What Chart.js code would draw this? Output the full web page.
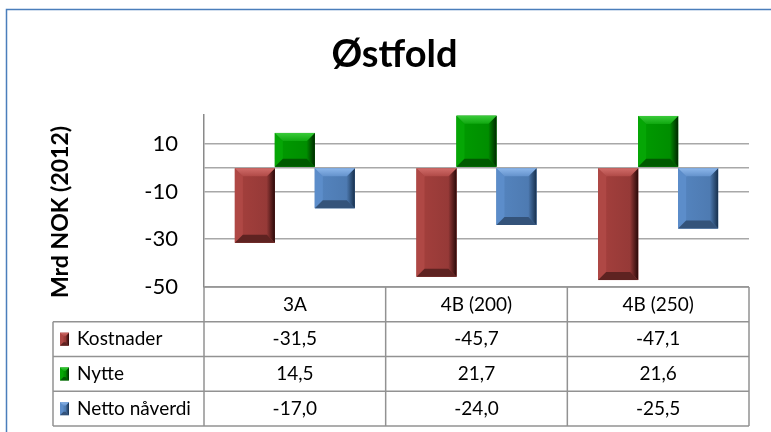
<!DOCTYPE html>
<html>
<head>
<meta charset="utf-8">
<script src="https://cdn.jsdelivr.net/npm/chart.js@4.4.0/dist/chart.umd.min.js"></script>
<style>
  html, body { margin: 0; padding: 0; background: #fff; }
  #wrap { width: 771px; height: 432px; }
</style>
</head>
<body>
<div id="wrap"><canvas id="chart" width="771" height="432"></canvas></div>
<script>
// --------------------------------------
// 1. Data
// --------------------------------------
const categories = ["3A", "4B (200)", "4B (250)"];
const kostnader = [-31.5, -45.7, -47.1];
const nytte = [14.5, 21.7, 21.6];
const nettoNaverdi = [-17.0, -24.0, -25.5];
const seriesNames = ["Kostnader", "Nytte", "Netto nåverdi"];
const yTickValues = [-50, -30, -10, 0, 10];
const yTickLabels = ["-50", "-30", "-10", "", "10"];

// bevel palettes (face, light top, dark bottom, left, dark right)
const palettes = [
    { face: "#A5403D", faceR: "#923836", top: "#D06C69", topIn: "#B04A47", bottom: "#5E2321", left: "#AF4845", right: "#2A0908" },
    { face: "#009C00", faceR: "#008A00", top: "#3ACB3A", topIn: "#10A810", bottom: "#005A00", left: "#05A605", right: "#002800" },
    { face: "#5585C0", faceR: "#4C78AE", top: "#8CB6EA", topIn: "#6492CC", bottom: "#34537A", left: "#5C8DCA", right: "#17304D" }
];

const FONT = "Lato, 'Open Sans', sans-serif";
const fmt = v => v.toFixed(1).replace(".", ",");

// --------------------------------------
// 2. Drawing helpers
// --------------------------------------
function poly(ctx, pts, fill) {
    ctx.beginPath();
    ctx.moveTo(pts[0][0], pts[0][1]);
    for (let i = 1; i < pts.length; i++) ctx.lineTo(pts[i][0], pts[i][1]);
    ctx.closePath();
    ctx.fillStyle = fill;
    ctx.fill();
}

function bevelBox(ctx, L, T, R, B, pal, bevel) {
    const b = Math.min(bevel, (R - L) / 2, (B - T) / 2);
    let g = ctx.createLinearGradient(L, 0, R, 0);
    g.addColorStop(0, pal.face);
    g.addColorStop(1, pal.faceR);
    ctx.fillStyle = g;
    ctx.fillRect(L, T, R - L, B - T);
    poly(ctx, [[L, T], [L + b, T + b], [L + b, B - b], [L, B]], pal.left);
    g = ctx.createLinearGradient(R - b, 0, R, 0);
    g.addColorStop(0, pal.faceR);
    g.addColorStop(1, pal.right);
    poly(ctx, [[R, T], [R - b, T + b], [R - b, B - b], [R, B]], g);
    g = ctx.createLinearGradient(0, T, 0, T + b);
    g.addColorStop(0, pal.top);
    g.addColorStop(1, pal.topIn);
    poly(ctx, [[L, T], [R, T], [R - b, T + b], [L + b, T + b]], g);
    poly(ctx, [[L, B], [R, B], [R - b, B - b], [L + b, B - b]], pal.bottom);
}

// --------------------------------------
// 3. Plugins
// --------------------------------------
const framePlugin = {
    id: "frame",
    beforeDraw(chart) {
        const ctx = chart.ctx;
        ctx.save();
        ctx.fillStyle = "#fff";
        ctx.fillRect(0, 0, chart.width, chart.height);
        ctx.strokeStyle = "#4A7EBB";
        ctx.lineWidth = 1.5;
        ctx.beginPath();
        ctx.moveTo(6.5, chart.height);
        ctx.lineTo(6.5, 9.5);
        ctx.lineTo(chart.width, 9.5);
        ctx.stroke();
        // y axis title
        ctx.translate(61, 212);
        ctx.rotate(-Math.PI / 2);
        ctx.font = "bold 23px " + FONT;
        ctx.textAlign = "center";
        ctx.textBaseline = "middle";
        ctx.fillStyle = "#000";
        ctx.fillText("Mrd NOK (2012)", 0, 0);
        ctx.restore();
    }
};

const bevelPlugin = {
    id: "bevel",
    afterDatasetsDraw(chart) {
        const ctx = chart.ctx, area = chart.chartArea;
        ctx.save();
        ctx.beginPath();
        ctx.rect(area.left, area.top, area.right - area.left, area.bottom - area.top);
        ctx.clip();
        chart.data.datasets.forEach((ds, di) => {
            chart.getDatasetMeta(di).data.forEach(bar => {
                const p = bar.getProps(["x", "y", "base", "width"], true);
                const L = p.x - p.width / 2, R = p.x + p.width / 2;
                const T = Math.min(p.y, p.base), B = Math.max(p.y, p.base);
                bevelBox(ctx, L, T, R, B, palettes[di], 8);
            });
        });
        ctx.restore();
    }
};

const tablePlugin = {
    id: "dataTable",
    afterDraw(chart) {
        const ctx = chart.ctx, area = chart.chartArea, xs = chart.scales.x;
        const colW = (area.right - area.left) / categories.length;
        const rowH = 34.75;
        const labelLeft = 53;
        const top = area.bottom;
        const rows = [kostnader, nytte, nettoNaverdi];
        const bottom = top + rowH * (rows.length + 1);

        ctx.save();
        ctx.strokeStyle = "#929292";
        ctx.lineWidth = 1.5;
        ctx.beginPath();
        // horizontal lines
        ctx.moveTo(area.left, top); ctx.lineTo(area.right, top);
        for (let r = 1; r <= rows.length + 1; r++) {
            ctx.moveTo(labelLeft, top + r * rowH);
            ctx.lineTo(area.right, top + r * rowH);
        }
        // vertical lines
        for (let c = 0; c <= categories.length; c++) {
            const x = area.left + c * colW;
            ctx.moveTo(x, top); ctx.lineTo(x, bottom);
        }
        ctx.moveTo(labelLeft, top + rowH); ctx.lineTo(labelLeft, bottom);
        ctx.stroke();

        ctx.fillStyle = "#000";
        ctx.font = "19px " + FONT;
        ctx.textBaseline = "middle";
        ctx.textAlign = "center";
        categories.forEach((cat, i) => {
            ctx.fillText(cat, xs.getPixelForValue(i), top + rowH / 2);
        });
        rows.forEach((vals, r) => {
            const cy = top + (r + 1.5) * rowH;
            vals.forEach((v, i) => {
                ctx.textAlign = "center";
                ctx.fillStyle = "#000";
                ctx.fillText(fmt(v), xs.getPixelForValue(i), cy);
            });
            bevelBox(ctx, 60, cy - 6.5, 69, cy + 6.5, palettes[r], 3.5);
            ctx.textAlign = "left";
            ctx.fillStyle = "#000";
            ctx.fillText(seriesNames[r], 77, cy);
        });
        ctx.restore();
    }
};

// --------------------------------------
// 4. Chart
// --------------------------------------
new Chart(document.getElementById("chart").getContext("2d"), {
    type: "bar",
    data: {
        labels: categories,
        datasets: [
            { label: seriesNames[0], data: kostnader, backgroundColor: palettes[0].face },
            { label: seriesNames[1], data: nytte, backgroundColor: palettes[1].face },
            { label: seriesNames[2], data: nettoNaverdi, backgroundColor: palettes[2].face }
        ]
    },
    options: {
        responsive: false,
        devicePixelRatio: 1,
        animation: false,
        layout: { padding: { left: 40, right: 22, top: 0, bottom: 145 } },
        datasets: { bar: { categoryPercentage: 0.66, barPercentage: 1, borderWidth: 0 } },
        plugins: {
            legend: { display: false },
            tooltip: { enabled: false },
            title: {
                display: true,
                text: "Østfold",
                color: "#000",
                font: { family: FONT, size: 38, weight: "bold" },
                padding: { top: 32, bottom: 37.4 }
            }
        },
        scales: {
            x: { display: false },
            y: {
                min: -50,
                max: 22,
                afterBuildTicks: scale => { scale.ticks = yTickValues.map(v => ({ value: v })); },
                afterFit: scale => { scale.width = 164; },
                grid: { color: "#A8A8A8", lineWidth: 1.5, drawTicks: false },
                border: { color: "#8A8A8A", width: 1.5 },
                ticks: {
                    padding: 26,
                    color: "#000",
                    font: { family: FONT, size: 22 },
                    callback: (v, i) => yTickLabels[i]
                }
            }
        }
    },
    plugins: [framePlugin, bevelPlugin, tablePlugin]
});
</script>
</body>
</html>
